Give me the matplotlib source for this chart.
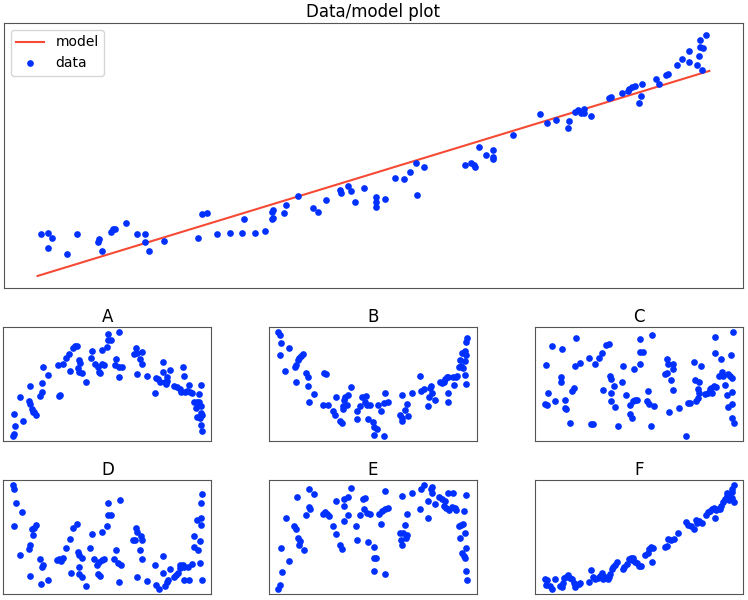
import matplotlib.pyplot as plt

dot_colour = '#0030ff'
line_colour = '#f64a35'

# main plot: data points and the straight model line
data_x = [3, 10, 10, 14, 29, 40, 61, 62, 65, 74, 76, 78, 89, 100, 108, 108, 112, 127, 161, 165,
          170, 180, 193, 205, 207, 218,
          228, 235, 236, 235, 236, 247, 249, 261, 276, 281, 289, 303, 304, 311, 314, 318, 327, 339,
          339, 339, 348, 358, 367, 373, 379, 380, 387, 428, 434, 437, 438, 442, 449, 456, 456, 456,
          476, 503, 510, 519, 531, 532, 538, 541, 544, 547, 547, 554, 572, 574, 585, 591, 592, 595,
          598, 602, 604, 605, 620, 623, 630, 632, 641, 646, 653, 653, 661, 663, 664, 664, 666, 667, 670]
data_y = [42, 43, 28, 38, 22, 42, 34, 37, 25, 44, 47, 47, 53, 42, 34, 42, 25, 35, 38, 62,
          63, 42, 43, 43, 57, 43,
          45, 57, 58, 64, 66, 63, 71, 80, 68, 64, 76, 86, 83, 90, 85, 74, 88, 79,
          74, 69, 77, 98, 97, 104, 113, 81, 109, 111, 113, 111, 109, 130, 121, 127, 119, 117,
          142, 163, 154, 157, 149, 156, 165, 167, 164, 168, 164, 161, 179, 180, 184, 186, 188, 190,
          191, 174, 181, 193, 198, 193, 202, 203, 212, 218, 226, 215, 212, 221, 237, 230, 207, 229, 242]
model_x = [0, 673]
model_y = [0, 206]

# small panels
a_x = [40, 45, 47, 44, 69, 61, 87, 90, 92, 98, 100, 104, 110, 120, 127, 126, 130, 144, 173, 176,
       181, 188, 199, 208, 211, 219, 226, 232, 236, 234, 240, 237, 246, 257, 271, 276, 283, 292, 296, 300,
       305, 312, 306, 320, 323, 323, 332, 348, 345, 355, 356, 357, 365, 400, 406, 410, 418, 424, 425, 410,
       438, 462, 465, 472, 478, 486, 487, 492, 495, 499, 506, 499, 520, 528, 536, 541, 546, 548, 551, 558,
       564, 566, 572, 580, 584, 587, 590, 593, 594, 600, 600, 599, 601, 595, 598, 602, 588]
a_y = [18, 23, 47, 83, 62, 133, 123, 113, 167, 98, 90, 88, 80, 138, 148, 176, 223, 200, 231, 138,
       140, 233, 252, 264, 211, 282, 286, 288, 244, 220, 235, 210, 206, 179, 250, 273, 234, 224, 209, 206,
       232, 230, 276, 285, 304, 323, 306, 248, 230, 225, 195, 328, 224, 264, 280, 265, 248, 270, 232, 202,
       198, 145, 191, 188, 180, 239, 210, 178, 172, 195, 216, 183, 166, 163, 157, 150, 224, 197, 148, 152,
       170, 148, 147, 120, 102, 119, 112, 120, 143, 169, 108, 85, 80, 70, 50, 33, 75]

b_x = [42, 47, 50, 48, 73, 63, 90, 95, 101, 103, 108, 116, 95, 123, 130, 130, 134, 147, 175, 178,
       184, 190, 204, 211, 214, 225, 232, 236, 236, 240, 239, 246, 250, 259, 276, 277, 285, 291, 299, 304,
       307, 309, 316, 324, 327, 335, 326, 340, 349, 358, 356, 360, 368, 404, 410, 412, 412, 420, 426, 428,
       440, 464, 468, 476, 488, 490, 494, 497, 501, 510, 524, 530, 536, 538, 544, 549, 548, 548, 566, 562,
       571, 576, 580, 584, 588, 590, 594, 598, 598, 602, 603, 606, 600, 602]
b_y = [330, 323, 300, 263, 284, 216, 227, 234, 248, 254, 260, 266, 182, 208, 197, 169, 122, 145, 114, 208,
       205, 112, 96, 83, 136, 65, 58, 109, 102, 138, 128, 112, 142, 167, 95, 72, 111, 138, 123, 140,
       114, 70, 114, 61, 48, 41, 23, 114, 96, 21, 118, 150, 123, 83, 74, 65, 143, 98, 116, 80,
       148, 200, 156, 160, 110, 138, 165, 170, 148, 129, 181, 180, 182, 191, 196, 198, 148, 121, 174, 196,
       198, 200, 226, 248, 229, 270, 223, 246, 274, 263, 302, 312, 203, 176]

c_x = [43, 47, 38, 45, 60, 70, 87, 88, 91, 98, 100, 98, 112, 120, 126, 127, 130, 143, 171, 176,
       181, 187, 200, 208, 211, 222, 229, 234, 237, 237, 237, 244, 247, 258, 270, 273, 280, 292, 293, 299,
       301, 305, 308, 314, 323, 323, 324, 331, 343, 346, 351, 357, 360, 366, 398, 403, 405, 406, 410, 417,
       421, 422, 422, 440, 466, 474, 484, 488, 490, 496, 497, 499, 500, 506, 518, 526, 533, 537, 540, 544,
       550, 547, 547, 560, 565, 570, 572, 578, 583, 588, 588, 594, 597, 600, 600, 599, 602, 598, 604, 462]
c_y = [231, 145, 114, 111, 286, 121, 195, 178, 278, 124, 98, 101, 56, 152, 162, 226, 312, 237, 252, 54,
       54, 233, 252, 267, 156, 291, 293, 198, 189, 145, 122, 168, 104, 46, 179, 226, 140, 84, 111, 72,
       123, 218, 125, 124, 309, 234, 270, 270, 121, 153, 113, 46, 320, 107, 203, 206, 248, 233, 88, 184,
       233, 219, 155, 101, 117, 117, 239, 184, 122, 130, 159, 146, 180, 227, 142, 147, 157, 162, 145, 167,
       164, 315, 266, 197, 248, 210, 197, 169, 140, 203, 104, 196, 260, 114, 150, 191, 328, 70, 55, 18]

d_x = [40, 45, 48, 68, 44, 60, 87, 90, 92, 98, 101, 104, 110, 120, 128, 130, 125, 145, 172, 178,
       182, 188, 199, 209, 213, 219, 230, 234, 236, 238, 236, 246, 246, 257, 268, 274, 280, 291, 296, 293,
       300, 305, 304, 312, 321, 322, 324, 331, 340, 348, 352, 363, 356, 358, 398, 404, 406, 408, 420, 424,
       418, 424, 410, 438, 462, 465, 474, 486, 486, 492, 498, 500, 507, 519, 526, 532, 536, 538, 545, 550,
       548, 564, 560, 572, 578, 580, 588, 590, 595, 597, 598, 598, 600, 602, 601]
d_y = [328, 318, 276, 248, 205, 119, 139, 150, 57, 198, 180, 200, 210, 109, 85, 90, 33, 46, 104, 108,
       102, 112, 142, 167, 67, 199, 211, 130, 120, 83, 62, 112, 54, 28, 140, 182, 109, 90, 98, 62,
       58, 189, 105, 108, 205, 238, 276, 238, 108, 136, 96, 90, 38, 284, 164, 164, 200, 188, 176, 166,
       136, 107, 54, 43, 90, 30, 20, 117, 67, 28, 38, 44, 78, 55, 61, 65, 80, 90, 90, 85,
       44, 44, 85, 94, 143, 176, 223, 135, 95, 161, 274, 230, 208, 302, 46]

e_x = [40, 46, 50, 47, 73, 63, 88, 92, 95, 100, 103, 105, 116, 123, 131, 131, 134, 146, 174, 180,
       186, 192, 204, 212, 214, 225, 232, 236, 237, 238, 248, 249, 259, 274, 277, 284, 294, 300, 298, 306,
       316, 309, 326, 327, 333, 326, 342, 348, 352, 360, 360, 369, 361, 404, 407, 410, 412, 413, 421, 426,
       424, 426, 440, 464, 468, 478, 488, 490, 498, 501, 502, 509, 523, 530, 540, 538, 544, 548, 566, 552,
       561, 571, 574, 583, 588, 594, 587, 600, 598, 603, 604, 591, 598, 602, 603, 608]
e_y = [20, 30, 69, 140, 101, 229, 207, 197, 291, 170, 150, 160, 135, 239, 315, 263, 257, 302, 242, 248,
       240, 235, 205, 182, 281, 148, 138, 220, 265, 285, 292, 237, 320, 207, 165, 239, 286, 290, 257, 244,
       242, 159, 142, 110, 110, 72, 242, 213, 250, 256, 309, 258, 64, 185, 165, 148, 294, 185, 210, 241,
       170, 180, 305, 257, 317, 327, 229, 281, 315, 322, 305, 270, 292, 285, 280, 266, 258, 304, 304, 253,
       262, 260, 252, 205, 210, 213, 170, 185, 250, 299, 140, 125, 118, 112, 71, 46]

f_x = [40, 43, 48, 55, 62, 70, 86, 92, 93, 96, 104, 110, 115, 122, 126, 130, 132, 141, 145, 172,
       178, 184, 190, 198, 206, 212, 214, 220, 228, 232, 236, 240, 244, 248, 256, 272, 276, 284, 292, 296,
       300, 304, 310, 316, 320, 326, 340, 348, 352, 356, 362, 360, 400, 406, 408, 416, 424, 436, 460, 468,
       476, 486, 490, 494, 500, 508, 520, 526, 532, 538, 544, 548, 550, 556, 562, 566, 572, 578, 584, 584,
       590, 594, 598, 600, 604, 604, 598]
f_y = [50, 32, 45, 27, 20, 50, 28, 24, 38, 52, 56, 62, 52, 48, 38, 24, 30, 35, 38, 40,
       75, 54, 50, 52, 58, 67, 50, 55, 50, 54, 65, 78, 84, 90, 101, 78, 85, 95, 108, 112,
       106, 112, 100, 98, 88, 87, 120, 128, 138, 146, 142, 100, 144, 148, 170, 166, 170, 188, 220, 212,
       208, 198, 225, 218, 224, 218, 242, 250, 254, 258, 262, 232, 255, 258, 260, 268, 280, 288, 298, 308,
       285, 295, 310, 320, 330, 280, 292]

panel_names = ['A', 'B', 'C', 'D', 'E', 'F']
panel_data = [(a_x, a_y), (b_x, b_y), (c_x, c_y), (d_x, d_y), (e_x, e_y), (f_x, f_y)]

plt.rcParams['axes.edgecolor'] = '#555555'

fig = plt.figure(figsize=(7.48, 6.0), dpi=100)

ax = fig.add_axes([0.0053, 0.52, 0.988, 0.4417])
ax.plot(model_x, model_y, color=line_colour, linewidth=1.5, label='model')
ax.plot(data_x, data_y, 'o', color=dot_colour, markersize=3.8, label='data')
ax.set_title('Data/model plot', pad=4)
ax.set_xticks([])
ax.set_yticks([])
ax.legend(loc='upper left')

lefts = [0.0045, 0.3596, 0.7157]
bottoms = [0.265, 0.0105]
for i, name in enumerate(panel_names):
    sub = fig.add_axes([lefts[i % 3], bottoms[i // 3], 0.278, 0.1895])
    px, py = panel_data[i]
    sub.plot(px, py, 'o', color=dot_colour, markersize=3.8)
    sub.set_title(name, pad=3.5)
    sub.set_xticks([])
    sub.set_yticks([])

fig.savefig('out.png', dpi=100)
